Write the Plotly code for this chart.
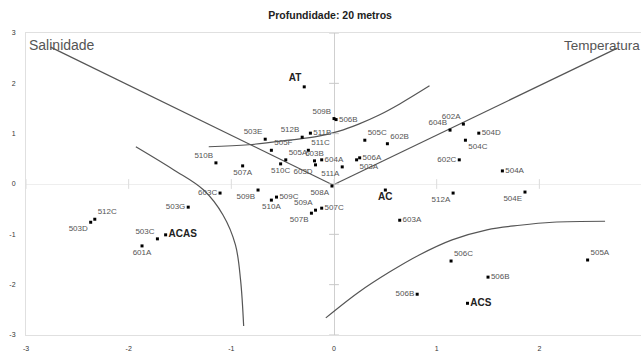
import plotly.graph_objects as go

# ---- data ----
labels = ["AT", "509B", "506B", "503E", "512B", "511B", "505F", "511C", "505A", "510C",
          "603B", "604A", "603D", "511A", "506A", "503A", "505C", "602B", "604B", "602A",
          "504D", "504C", "602C", "504A", "512A", "504E", "506C", "506B", "ACS", "505A",
          "506B", "AC", "603A", "508A", "507C", "509A", "507B", "509C", "510A", "509B",
          "603C", "503G", "510B", "507A", "512C", "503D", "503C", "ACAS", "601A"]
xs = [-0.29, 0.00, 0.02, -0.67, -0.31, -0.23, -0.61, -0.25, -0.47, -0.52,
      -0.19, -0.12, -0.18, 0.08, 0.25, 0.22, 0.30, 0.52, 1.13, 1.26,
      1.41, 1.28, 1.22, 1.64, 1.16, 1.86, 1.14, 1.50, 1.30, 2.47,
      0.81, 0.50, 0.64, -0.02, -0.12, -0.18, -0.22, -0.56, -0.61, -0.74,
      -1.11, -1.42, -1.15, -0.89, -2.33, -2.37, -1.72, -1.64, -1.87]
ys = [1.93, 1.30, 1.28, 0.89, 0.93, 1.01, 0.67, 0.67, 0.48, 0.40,
      0.46, 0.48, 0.38, 0.34, 0.52, 0.48, 0.87, 0.80, 1.07, 1.19,
      1.01, 0.87, 0.48, 0.26, -0.18, -0.16, -1.53, -1.85, -2.37, -1.51,
      -2.19, -0.12, -0.72, -0.04, -0.48, -0.52, -0.58, -0.26, -0.32, -0.12,
      -0.18, -0.46, 0.42, 0.36, -0.70, -0.76, -1.09, -1.01, -1.23]
water_masses = {"AT", "AC", "ACS", "ACAS"}

# boundary curves
sal_x = [-2.76, -0.01]
sal_y = [2.72, -0.02]
temp_x = [-0.01, 2.76]
temp_y = [-0.02, 2.70]
at_x = [-1.22, -0.83, -0.44, -0.15, 0.05, 0.24, 0.44, 0.64, 0.93]
at_y = [0.74, 0.78, 0.87, 0.95, 1.05, 1.19, 1.37, 1.59, 1.95]
acas_x = [-1.93, -1.56, -1.27, -1.08, -0.96, -0.91, -0.88]
acas_y = [0.74, 0.28, -0.12, -0.62, -1.21, -1.91, -2.82]
acs_x = [-0.08, 0.24, 0.54, 0.83, 1.15, 1.49, 1.81, 2.13, 2.64]
acs_y = [-2.66, -2.15, -1.75, -1.41, -1.11, -0.91, -0.82, -0.76, -0.74]

x_ticks = [-3, -2, -1, 0, 1, 2]
y_ticks = [-3, -2, -1, 0, 1, 2, 3]

# label placement (style)
text_pos = ["top left", "top left", "middle right", "top left", "top left", "middle right",
            "top right", "top right", "top right", "bottom center",
            "top center", "middle right", "bottom left", "bottom left", "middle right",
            "bottom right", "top right", "top right", "top left", "top left",
            "middle right", "bottom right", "middle left", "middle right", "bottom left",
            "bottom left", "top right", "middle right", "middle right", "top right",
            "middle left", "bottom center", "middle right", "bottom left", "middle right",
            "top left", "bottom left", "middle right", "bottom center", "bottom left",
            "middle left", "middle left", "top left", "bottom center", "top right",
            "bottom left", "top left", "middle right", "bottom center"]

fig = go.Figure()

line_style = dict(color="#555555", width=1.2)
for cx, cy in [(sal_x, sal_y), (temp_x, temp_y), (at_x, at_y), (acas_x, acas_y), (acs_x, acs_y)]:
    fig.add_trace(go.Scatter(x=cx, y=cy, mode="lines", line=dict(line_style, shape="spline"),
                             hoverinfo="skip", showlegend=False))

# small tick marks on the zero axes
fig.add_trace(go.Scatter(x=[0] * len(y_ticks), y=y_ticks, mode="markers",
                         marker=dict(symbol="line-ew-open", size=7, color="#c8c8c8", line=dict(width=1, color="#c8c8c8")),
                         hoverinfo="skip", showlegend=False))
fig.add_trace(go.Scatter(x=x_ticks, y=[0] * len(x_ticks), mode="markers",
                         marker=dict(symbol="line-ns-open", size=7, color="#dcdcdc", line=dict(width=1, color="#dcdcdc")),
                         hoverinfo="skip", showlegend=False))

norm_idx = [i for i, l in enumerate(labels) if l not in water_masses]
wm_idx = [i for i, l in enumerate(labels) if l in water_masses]
fig.add_trace(go.Scatter(
    x=[xs[i] for i in norm_idx], y=[ys[i] for i in norm_idx],
    text=[labels[i] for i in norm_idx], textposition=[text_pos[i] for i in norm_idx],
    mode="markers+text",
    marker=dict(symbol="square", size=3, color="black"),
    textfont=dict(family="Liberation Sans, Arial", size=8, color="#555555"),
    showlegend=False))
fig.add_trace(go.Scatter(
    x=[xs[i] for i in wm_idx], y=[ys[i] for i in wm_idx],
    text=["<b>" + labels[i] + "</b>" for i in wm_idx], textposition=[text_pos[i] for i in wm_idx],
    mode="markers+text",
    marker=dict(symbol="square", size=3, color="black"),
    textfont=dict(family="Liberation Sans, Arial", size=10, color="#222222"),
    showlegend=False))

fig.add_annotation(x=-3, y=2.76, xref="x", yref="y", text="Salinidade", showarrow=False,
                   xanchor="left", yanchor="middle", xshift=1,
                   font=dict(family="Liberation Sans, Arial", size=14, color="#555555"))
fig.add_annotation(x=1, y=2.76, xref="paper", yref="y", text="Temperatura", showarrow=False,
                   xanchor="right", yanchor="middle", borderpad=0,
                   font=dict(family="Liberation Sans, Arial", size=13.5, color="#555555"))

fig.update_layout(
    width=641, height=354,
    margin=dict(l=26, r=0, t=33, b=19),
    paper_bgcolor="white", plot_bgcolor="white",
    title=dict(text="<b>Profundidade: 20 metros</b>", x=0.515, xanchor="center", y=0.957, yanchor="middle",
               font=dict(family="Liberation Sans, Arial", size=10.5, color="#222222")),
    font=dict(family="Liberation Sans, Arial", size=7, color="#333333"),
)
fig.update_xaxes(range=[-3, 2.99], tickvals=x_ticks, ticktext=[str(v) for v in x_ticks],
                 showgrid=False, zeroline=True, zerolinecolor="#cfcfcf", zerolinewidth=1,
                 showline=True, linecolor="#e0e0e0", mirror=True, ticks="", ticklabelstandoff=7,
                 tickfont=dict(size=7, color="#333333"))
fig.update_yaxes(range=[-3, 3], tickvals=y_ticks, ticktext=[str(v) for v in y_ticks],
                 showgrid=False, zeroline=True, zerolinecolor="#eeeeee", zerolinewidth=1,
                 showline=True, linecolor="#e0e0e0", mirror=True, ticks="", ticklabelstandoff=8,
                 tickfont=dict(size=7, color="#333333"))

# remove the default page margin so the 641x354 figure fills the window exactly
fig.write_html("out.html",
               config={"displayModeBar": False},
               post_script="document.body.style.margin='0';document.body.style.overflow='hidden';"
                           "document.documentElement.style.overflow='hidden';")
